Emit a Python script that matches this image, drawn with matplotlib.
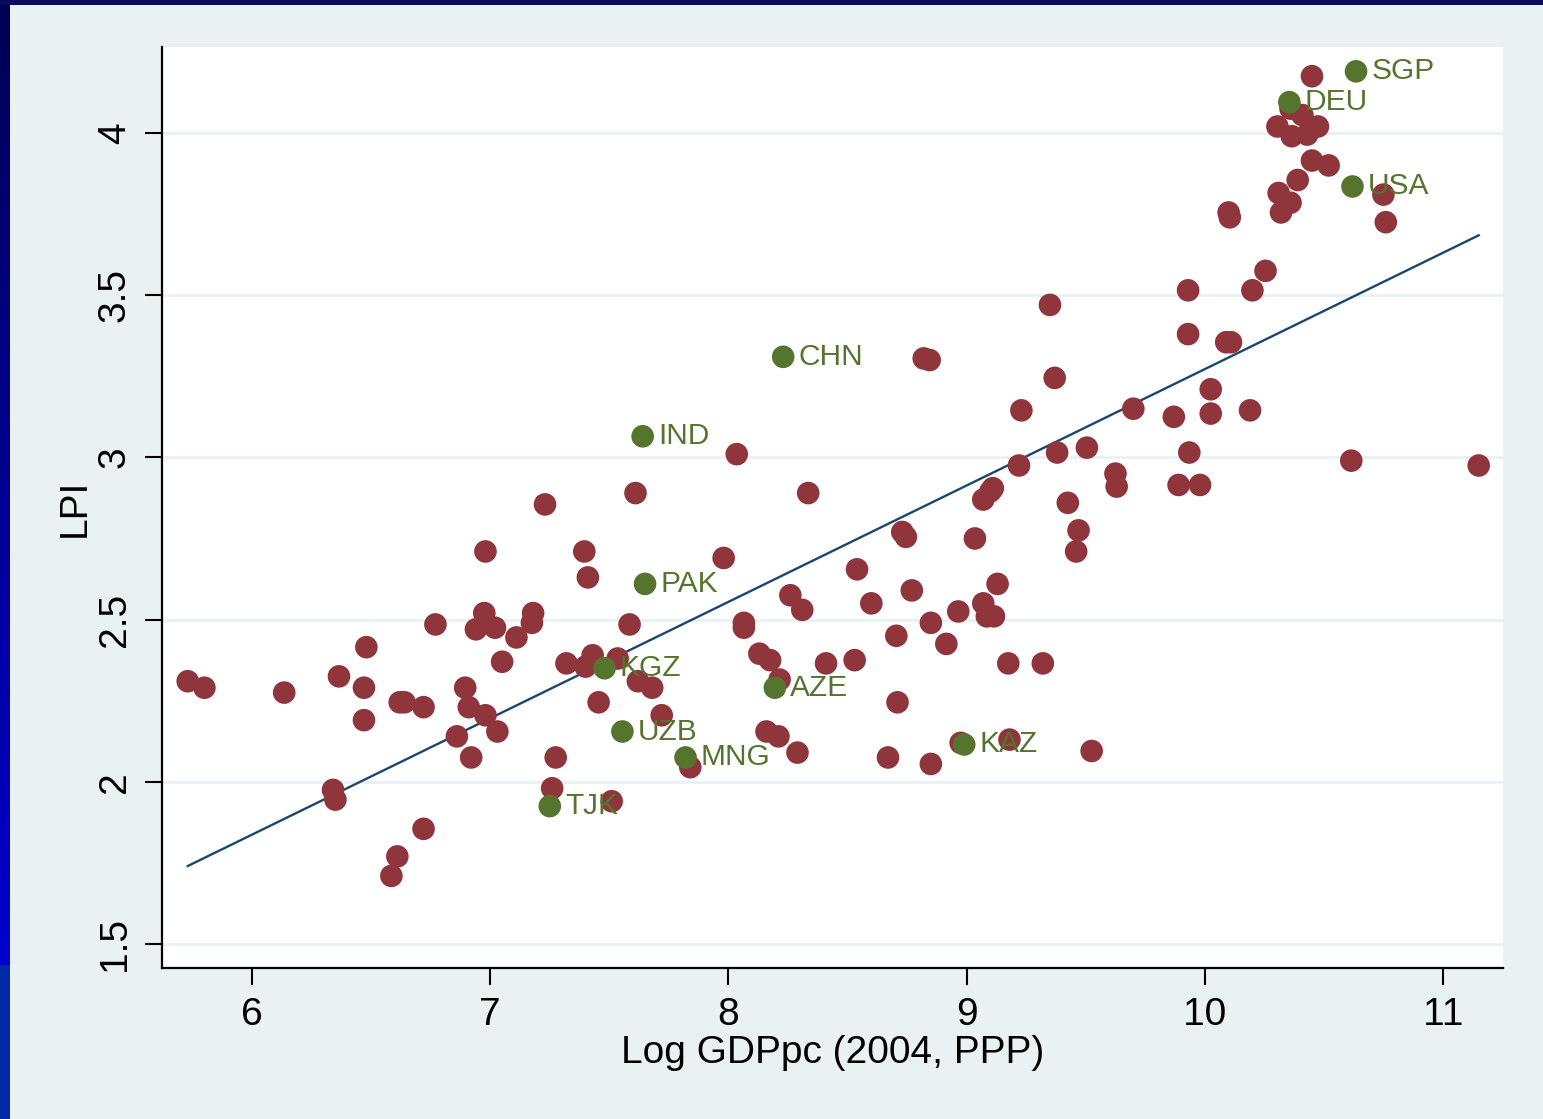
import numpy as np
import matplotlib
matplotlib.use("Agg")
import matplotlib.pyplot as plt
from matplotlib.patches import Rectangle

plt.rcParams['font.family'] = ['Liberation Sans', 'DejaVu Sans']

# ====================== DATA ======================
# all other countries (maroon)
red_x = [5.73, 5.80, 6.135, 6.34, 6.35, 6.365, 6.47, 6.47, 6.48, 6.585,
         6.61, 6.62, 6.64, 6.72, 6.72, 6.77, 6.86, 6.895, 6.91, 6.92,
         6.94, 6.975, 6.98, 6.98, 7.02, 7.03, 7.05, 7.11, 7.175, 7.18,
         7.23, 7.26, 7.275, 7.32, 7.395, 7.40, 7.41, 7.43, 7.455, 7.51,
         7.535, 7.585, 7.61, 7.62, 7.68, 7.72, 7.84, 7.98, 8.035, 8.065,
         8.065, 8.13, 8.16, 8.175, 8.21, 8.215, 8.26, 8.29, 8.31, 8.335,
         8.41, 8.53, 8.54, 8.60, 8.67, 8.705, 8.71, 8.73, 8.745, 8.77,
         8.82, 8.845, 8.85, 8.85, 8.915, 8.965, 8.975, 9.035, 9.07, 9.07,
         9.085, 9.10, 9.11, 9.115, 9.13, 9.175, 9.18, 9.22, 9.23, 9.32,
         9.35, 9.37, 9.38, 9.425, 9.46, 9.47, 9.505, 9.525, 9.625, 9.63,
         9.70, 9.87, 9.89, 9.93, 9.93, 9.935, 9.98, 10.025, 10.025, 10.09,
         10.11, 10.10, 10.105, 10.19, 10.20, 10.255, 10.305, 10.31, 10.32, 10.36,
         10.36, 10.365, 10.39, 10.41, 10.43, 10.45, 10.45, 10.475, 10.52, 10.615,
         10.75, 10.76, 11.15]
red_y = [2.31, 2.29, 2.275, 1.975, 1.945, 2.325, 2.29, 2.19, 2.415, 1.71,
         1.77, 2.245, 2.245, 2.23, 1.855, 2.485, 2.14, 2.29, 2.23, 2.075,
         2.47, 2.52, 2.71, 2.205, 2.475, 2.155, 2.37, 2.445, 2.49, 2.52,
         2.855, 1.98, 2.075, 2.365, 2.71, 2.355, 2.63, 2.39, 2.245, 1.94,
         2.38, 2.485, 2.89, 2.31, 2.29, 2.205, 2.045, 2.69, 3.01, 2.49,
         2.475, 2.395, 2.155, 2.375, 2.14, 2.315, 2.575, 2.09, 2.53, 2.89,
         2.365, 2.375, 2.655, 2.55, 2.075, 2.45, 2.245, 2.77, 2.755, 2.59,
         3.305, 3.30, 2.49, 2.055, 2.425, 2.525, 2.12, 2.75, 2.55, 2.87,
         2.51, 2.895, 2.905, 2.51, 2.61, 2.365, 2.13, 2.975, 3.145, 2.365,
         3.47, 3.245, 3.015, 2.86, 2.71, 2.775, 3.03, 2.095, 2.95, 2.91,
         3.15, 3.125, 2.915, 3.515, 3.38, 3.015, 2.915, 3.21, 3.135, 3.355,
         3.355, 3.755, 3.74, 3.145, 3.515, 3.575, 4.02, 3.815, 3.755, 3.785,
         4.075, 3.99, 3.855, 4.055, 3.995, 4.175, 3.915, 4.02, 3.90, 2.99,
         3.81, 3.725, 2.975]

# highlighted countries (green)
codes = ['TJK', 'KGZ', 'UZB', 'IND', 'PAK', 'MNG', 'AZE', 'CHN', 'KAZ', 'DEU', 'USA', 'SGP']
green_x = [7.25, 7.48, 7.555, 7.64, 7.65, 7.82, 8.195, 8.23, 8.99, 10.355, 10.62, 10.635]
green_y = [1.925, 2.35, 2.155, 3.065, 2.61, 2.075, 2.29, 3.31, 2.115, 4.095, 3.835, 4.19]

yticks = [1.5, 2, 2.5, 3, 3.5, 4]
ytick_labels = ['1.5', '2', '2.5', '3', '3.5', '4']
xticks = [6, 7, 8, 9, 10, 11]

# ====================== COLOURS ======================
bg = '#E9F1F3'
maroon = '#90353B'
green = '#55752F'
navy = '#1A476F'

fig = plt.figure(figsize=(15.43, 11.19), dpi=100, facecolor=bg)

# frame: dark strip on top, blue gradient strip on the left
fig.patches.append(Rectangle((0, 1 - 5 / 1119), 1, 5 / 1119, transform=fig.transFigure,
                             facecolor='#0A0A5C', edgecolor='none', zorder=0))
strip = fig.add_axes([0, 0, 10 / 1543, 1 - 5 / 1119])
grad = np.zeros((1114, 1, 3))
t = np.linspace(0, 1, 960)
grad[:960, 0, 2] = 0.33 + 0.48 * t
grad[960:, 0] = [0.0, 0.16, 0.66]
strip.imshow(grad, aspect='auto', interpolation='nearest')
strip.axis('off')

ax = fig.add_axes([162 / 1543, (1119 - 968) / 1119, (1503 - 162) / 1543, (968 - 47) / 1119])
ax.set_facecolor('white')

# linear fit over all countries
x_all = np.array(red_x + green_x)
y_all = np.array(red_y + green_y)
slope, intercept = np.polyfit(x_all, y_all, 1)
xs = np.array([x_all.min(), x_all.max()])
ax.plot(xs, intercept + slope * xs, color=navy, lw=1.7, zorder=2)

ax.scatter(red_x, red_y, s=265, color=maroon, edgecolors='none', zorder=3)
ax.scatter(green_x, green_y, s=265, color=green, edgecolors='none', zorder=4)
for c, xv, yv in zip(codes, green_x, green_y):
    ax.annotate(c, (xv, yv), xytext=(11, 0), textcoords='offset points',
                va='center', ha='left', fontsize=21.5, color=green, zorder=5)

ax.set_xlim(5.622, 11.252)
ax.set_ylim(1.426, 4.265)
ax.set_xticks(xticks)
ax.set_yticks(yticks)
ax.set_yticklabels(ytick_labels, rotation=90, va='center')
ax.tick_params(axis='both', length=12, width=1.5, labelsize=28, color='black')
ax.tick_params(axis='x', pad=9)
ax.tick_params(axis='y', pad=9)
ax.grid(axis='y', color=bg, lw=2)
ax.set_axisbelow(True)
for s in ['top', 'right']:
    ax.spines[s].set_visible(False)
for s in ['left', 'bottom']:
    ax.spines[s].set_linewidth(1.6)

ax.set_xlabel('Log GDPpc (2004, PPP)', fontsize=28)
ax.set_ylabel('LPI', fontsize=28)
ax.xaxis.label.set_va('center')
ax.yaxis.label.set_va('center')
ax.xaxis.set_label_coords(0.5, -0.092)
ax.yaxis.set_label_coords(-0.065, 0.5)

fig.savefig('out.png', dpi=100, facecolor=bg)
